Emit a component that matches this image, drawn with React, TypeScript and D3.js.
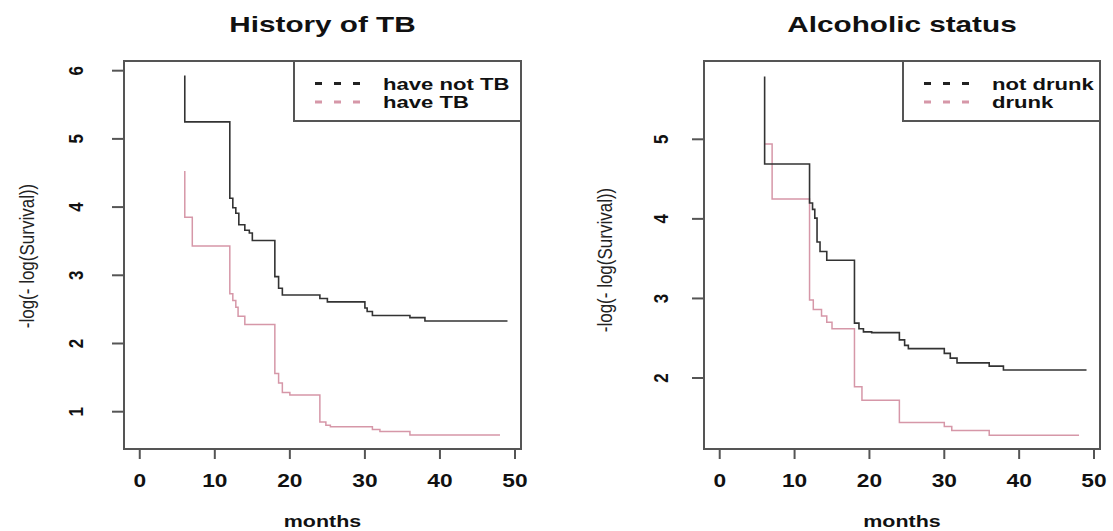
import React from 'react';
import * as d3 from 'd3';

// shared x axis (months)
const monthTicks = [0, 10, 20, 30, 40, 50];
const monthDomain = [-2.1, 50.8];

// History of TB panel
const tbNoTimes = [6, 6, 12, 12.4, 12.8, 13.2, 14, 14.6, 15, 18, 18.5, 19, 24, 25, 30, 30.3, 31, 36, 38, 49];
const tbNoValues = [5.93, 5.25, 4.13, 3.99, 3.91, 3.74, 3.66, 3.62, 3.51, 2.98, 2.81, 2.71, 2.66, 2.61, 2.52, 2.47, 2.41, 2.38, 2.33, 2.33];
const tbYesTimes = [6, 6, 7, 12, 12.4, 12.8, 13.1, 14, 18, 18.5, 19, 20, 24, 24.8, 25.4, 31, 32, 36, 48];
const tbYesValues = [4.53, 3.85, 3.43, 2.73, 2.63, 2.53, 2.4, 2.28, 1.56, 1.42, 1.28, 1.245, 0.85, 0.8, 0.78, 0.74, 0.71, 0.66, 0.66];
const tbYTicks = [1, 2, 3, 4, 5, 6];
const tbLegend = ['have not TB', 'have TB'];

// Alcoholic status panel
const drunkNoTimes = [6, 6, 12, 12.4, 12.7, 13, 13.4, 14.3, 18, 18.6, 19.2, 20.3, 24, 24.7, 25.2, 30, 30.8, 31.7, 36, 37.9, 49];
const drunkNoValues = [5.79, 4.69, 4.2, 4.12, 4.01, 3.71, 3.59, 3.48, 2.69, 2.62, 2.58, 2.57, 2.48, 2.41, 2.37, 2.31, 2.25, 2.19, 2.15, 2.1, 2.1];
const drunkYesTimes = [6, 7, 12, 12.5, 13.6, 14.3, 15, 18, 19, 24, 30, 31, 36, 48];
const drunkYesValues = [4.94, 4.25, 2.98, 2.86, 2.78, 2.7, 2.62, 1.89, 1.72, 1.44, 1.39, 1.34, 1.28, 1.28];
const drunkYTicks = [2, 3, 4, 5];
const drunkLegend = ['not drunk', 'drunk'];

const BLACK = '#333';
const PINK = '#d697a8';
const FONT = '"Liberation Sans", Arial, sans-serif';

const Panel = ({ box, yDomain, yTicks, title, legend, seriesA, seriesB, tickLabelX, yLabX, yLabY }) => {
  const x = d3.scaleLinear().domain(monthDomain).range([box.x0, box.x1]);
  const y = d3.scaleLinear().domain(yDomain).range([box.y1, box.y0]);
  const line = d3
    .line()
    .x((d) => x(d[0]))
    .y((d) => y(d[1]))
    .curve(d3.curveStepAfter);

  const toPts = (t, v) => t.map((tt, i) => [tt, v[i]]);
  const cx = (box.x0 + box.x1) / 2;
  const legX = box.legendX;

  return (
    <g fontFamily={FONT}>
      <text
        transform={`translate(${cx},32) scale(1.35,1)`}
        textAnchor="middle"
        fontSize={22}
        fontWeight="bold"
        fill="#111"
      >
        {title}
      </text>

      {/* curves */}
      <path d={line(toPts(seriesB[0], seriesB[1]))} fill="none" stroke={PINK} strokeWidth={1.5} />
      <path d={line(toPts(seriesA[0], seriesA[1]))} fill="none" stroke={BLACK} strokeWidth={1.6} />

      {/* box */}
      <rect
        x={box.x0}
        y={box.y0}
        width={box.x1 - box.x0}
        height={box.y1 - box.y0}
        fill="none"
        stroke="#555"
        strokeWidth={2}
      />

      {/* x axis */}
      {monthTicks.map((t) => (
        <g key={'x' + t}>
          <line x1={x(t)} x2={x(t)} y1={box.y1} y2={box.y1 + 10} stroke="#555" strokeWidth={2} />
          <text
            transform={`translate(${x(t)},487) scale(1.3,1)`}
            textAnchor="middle"
            fontSize={17.5}
            fontWeight="bold"
            fill="#111"
          >
            {t}
          </text>
        </g>
      ))}
      <text
        transform={`translate(${cx},527) scale(1.3,1)`}
        textAnchor="middle"
        fontSize={16.5}
        fontWeight="bold"
        fill="#111"
      >
        months
      </text>

      {/* y axis */}
      {yTicks.map((t) => (
        <g key={'y' + t}>
          <line x1={box.x0 - 12} x2={box.x0} y1={y(t)} y2={y(t)} stroke="#555" strokeWidth={2} />
          <text
            transform={`translate(${tickLabelX},${y(t)}) rotate(-90) scale(1,1.15)`}
            textAnchor="middle"
            fontSize={17}
            fontWeight="bold"
            fill="#111"
          >
            {t}
          </text>
        </g>
      ))}
      <text
        transform={`translate(${yLabX},${yLabY}) rotate(-90) scale(1,1.2)`}
        textAnchor="middle"
        fontSize={17}
        fill="#222"
      >
        -log(- log(Survival))
      </text>

      {/* legend */}
      <rect
        x={legX}
        y={box.y0}
        width={box.x1 - legX}
        height={60}
        fill="white"
        stroke="#555"
        strokeWidth={2}
      />
      {legend.map((name, i) => {
        const ly = 83.5 + i * 18.5;
        return (
          <g key={name}>
            <line
              x1={legX + 21}
              x2={legX + 66}
              y1={ly}
              y2={ly}
              stroke={i === 0 ? '#222' : PINK}
              strokeWidth={3}
              strokeDasharray="7 12"
            />
            <text
              transform={`translate(${legX + 89},${ly + 6}) scale(1.3,1)`}
              fontSize={17}
              fontWeight="bold"
              fill="#111"
            >
              {name}
            </text>
          </g>
        );
      })}
    </g>
  );
};

export default function App() {
  return (
    <svg
      width={1113}
      height={531}
      style={{ position: 'absolute', left: 0, top: 0, background: 'white' }}
    >
      <rect width={1113} height={531} fill="white" />
      <Panel
        box={{ x0: 124, x1: 521, y0: 61, y1: 449, legendX: 294 }}
        yDomain={[0.453, 6.142]}
        yTicks={tbYTicks}
        title="History of TB"
        legend={tbLegend}
        seriesA={[tbNoTimes, tbNoValues]}
        seriesB={[tbYesTimes, tbYesValues]}
        tickLabelX={83}
        yLabX={34}
        yLabY={256}
      />
      <Panel
        box={{ x0: 704, x1: 1100, y0: 61, y1: 449, legendX: 903 }}
        yDomain={[1.108, 5.984]}
        yTicks={drunkYTicks}
        title="Alcoholic status"
        legend={drunkLegend}
        seriesA={[drunkNoTimes, drunkNoValues]}
        seriesB={[drunkYesTimes, drunkYesValues]}
        tickLabelX={668}
        yLabX={612}
        yLabY={260}
      />
    </svg>
  );
}
